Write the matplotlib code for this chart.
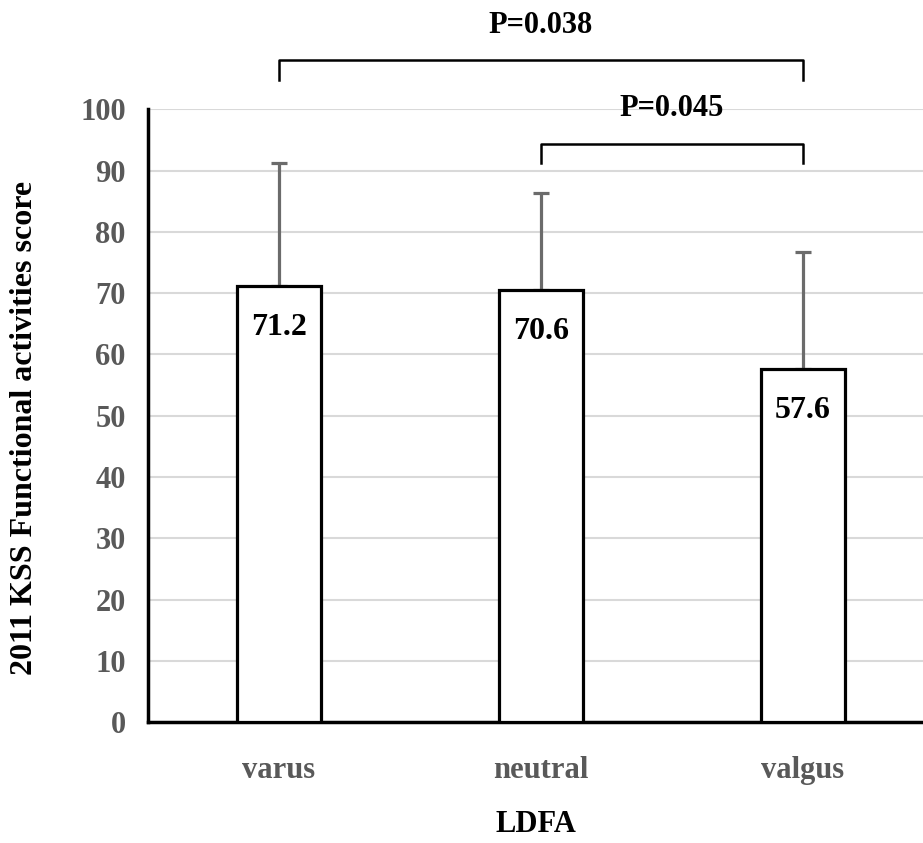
import matplotlib
matplotlib.use("Agg")
import matplotlib.pyplot as plt
import numpy as np

categories = ["varus", "neutral", "valgus"]
means = [71.2, 70.6, 57.6]
sds = [20.1, 15.7, 19.2]
yticks = [0, 10, 20, 30, 40, 50, 60, 70, 80, 90, 100]

# significance brackets: (left index, right index, label, bracket y, drop, text y)
brackets = [
    (0, 2, "P=0.038", 108.0, 3.2, 113.6),
    (1, 2, "P=0.045", 94.4, 3.2, 100.2),
]

plt.rcParams["font.family"] = ["Liberation Serif", "DejaVu Serif"]
plt.rcParams["font.weight"] = "bold"

tick_gray = "#595959"

fig = plt.figure(figsize=(9.23, 8.43), dpi=100)
ax = fig.add_axes([148 / 923, (843 - 722.3) / 843, 1 - 148 / 923, (722.3 - 109.3) / 843])

x = np.arange(len(categories))
ax.bar(x, means, width=0.317, color="white", edgecolor="black", linewidth=2.3, zorder=3)
ax.errorbar(x, means, yerr=[np.zeros(len(sds)), sds], fmt="none", ecolor="#6b6b6b",
            elinewidth=2.3, capsize=6, capthick=2.3, zorder=2)

for xi, m in zip(x, means):
    ax.annotate(f"{m:.1f}", (xi, m), xytext=(0, -30), textcoords="offset points",
                ha="center", va="center", fontsize=23, fontweight="bold", color="black", zorder=4)

for i0, i1, label, yb, drop, yt in brackets:
    ax.plot([x[i0], x[i0], x[i1], x[i1]], [yb - drop, yb, yb, yb - drop], color="black",
            linewidth=1.8, clip_on=False, zorder=5)
    ax.text((x[i0] + x[i1]) / 2, yt, label, ha="center", va="center", fontsize=22,
            fontweight="bold", color="black", clip_on=False)

ax.set_xlim(-0.5, 2.458)
ax.set_ylim(0, 100)
ax.set_yticks(yticks)
ax.set_xticks(x)
ax.set_xticklabels(categories)
ax.yaxis.grid(True, color="#d9d9d9", linewidth=1.5, zorder=0)
ax.set_axisbelow(True)
ax.tick_params(axis="both", length=0, labelsize=22, labelcolor=tick_gray)
ax.tick_params(axis="y", pad=16)
ax.tick_params(axis="x", pad=24)
for lab in ax.get_xticklabels() + ax.get_yticklabels():
    lab.set_fontweight("bold")

for side in ("top", "right"):
    ax.spines[side].set_visible(False)
for side in ("left", "bottom"):
    ax.spines[side].set_linewidth(2.5)
    ax.spines[side].set_color("black")

ax.set_ylabel("2011 KSS Functional activities score", fontsize=23, fontweight="bold")
ax.yaxis.set_label_coords(-0.14, 0.48)
ax.set_xlabel("LDFA", fontsize=22, fontweight="bold", labelpad=18)

fig.savefig("out.png", dpi=100)
